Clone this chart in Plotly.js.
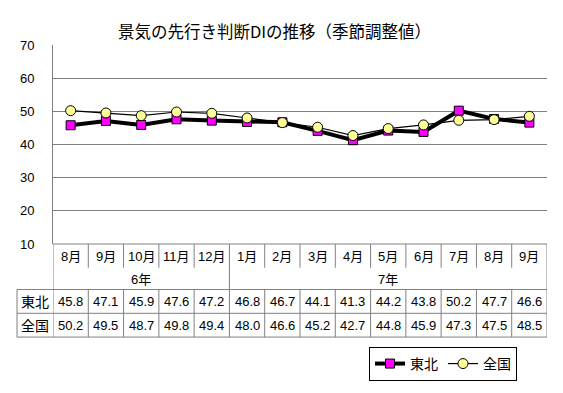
<!DOCTYPE html>
<html>
<head>
<meta charset="utf-8">
<script src="https://cdn.plot.ly/plotly-3.0.1.min.js"></script>
<style>body{margin:0;padding:0;background:#fff}#chart{width:563px;height:393px}</style>
</head>
<body>
<div id="chart"></div>
<script>
// ---- data ----
var months = ['8月','9月','10月','11月','12月','1月','2月','3月','4月','5月','6月','7月','8月','9月'];
var yearLabels = ['6年','7年'];
var yearOfMonth = [0,0,0,0,0,1,1,1,1,1,1,1,1,1];
var seriesNames = ['東北','全国'];
var tohoku = [45.8,47.1,45.9,47.6,47.2,46.8,46.7,44.1,41.3,44.2,43.8,50.2,47.7,46.6];
var zenkoku = [50.2,49.5,48.7,49.8,49.4,48.0,46.6,45.2,42.7,44.8,45.9,47.3,47.5,48.5];
var yTicks = [10,20,30,40,50,60,70];

// ---- layout geometry (pixels) ----
var W = 563, H = 393;
var L = 53, R = 547, T = 45, B = 246;
var pw = R - L, ph = B - T;
function py(p){ return (B - p) / ph; }   // pixel y -> paper y
function px(p){ return (p - L) / pw; }   // pixel x -> paper x

var idx = months.map(function(_, i){ return i; });
var gray = '#808080';
var jp = '"Noto Sans CJK JP", sans-serif';
var num = '"Liberation Sans", Arial, "Noto Sans CJK JP", sans-serif';

var traces = [
  {x: idx, y: tohoku, name: seriesNames[0], type: 'scatter', mode: 'lines+markers',
   line: {color: '#000000', width: 4},
   marker: {symbol: 'square', size: 9, color: '#FF00FF', line: {color: '#000000', width: 1}}},
  {x: idx, y: zenkoku, name: seriesNames[1], type: 'scatter', mode: 'lines+markers',
   line: {color: '#000000', width: 1.2},
   marker: {symbol: 'circle', size: 10, color: '#FFFF99', line: {color: '#000000', width: 1}}}
];

var shapes = [];
var annotations = [];
function vline(x, y0, y1, xref){ shapes.push({type:'line', xref: xref || 'x', yref:'paper', x0:x, x1:x, y0:y0, y1:y1, line:{color:gray, width:1}}); }
function hline(y, x0, x1, xref){ shapes.push({type:'line', xref: xref || 'x', yref:'paper', x0:x0, x1:x1, y0:y, y1:y, line:{color:gray, width:1}}); }

var n = months.length;
var yHeadBot = py(270), yYearBot = py(292), yRow2 = py(316), yBot = py(340);
var labelLeft = px(17);

// header separators
for (var i = 0; i < n - 1; i++) {
  var boundary = yearOfMonth[i] !== yearOfMonth[i+1];
  vline(i + 0.5, 0, boundary ? yYearBot : yHeadBot);
}
// data row verticals
for (var i = 0; i <= n; i++) {
  vline(i - 0.5, (i === 0 || i === n) ? 0 : yYearBot, yBot);
}
vline(labelLeft, yYearBot, yBot, 'paper');
// horizontals
hline(yYearBot, labelLeft, 1, 'paper');
hline(yRow2, labelLeft, 1, 'paper');
hline(yBot, labelLeft, 1, 'paper');
hline(0, -0.5, n - 0.5);

// month labels and values
months.forEach(function(m, i){
  annotations.push({xref:'x', yref:'paper', x:i, y:py(259), text:m, showarrow:false,
    font:{family:num, size:13, color:'#000'}, xanchor:'center', yanchor:'middle'});
  annotations.push({xref:'x', yref:'paper', x:i, y:py(304), text:tohoku[i].toFixed(1), showarrow:false,
    font:{family:num, size:13, color:'#000'}, xanchor:'center', yanchor:'middle'});
  annotations.push({xref:'x', yref:'paper', x:i, y:py(328), text:zenkoku[i].toFixed(1), showarrow:false,
    font:{family:num, size:13, color:'#000'}, xanchor:'center', yanchor:'middle'});
});
// year labels
yearLabels.forEach(function(yl, k){
  var members = idx.filter(function(i){ return yearOfMonth[i] === k; });
  var c = (members[0] + members[members.length - 1]) / 2;
  annotations.push({xref:'x', yref:'paper', x:c, y:py(282), text:yl, showarrow:false,
    font:{family:num, size:13, color:'#000'}, xanchor:'center', yanchor:'middle'});
});
// row labels
[seriesNames[0], seriesNames[1]].forEach(function(s, k){
  annotations.push({xref:'paper', yref:'paper', x:px(35), y:py(k === 0 ? 304 : 328), text:s, showarrow:false,
    font:{family:jp, size:14, color:'#000'}, xanchor:'center', yanchor:'middle'});
});

var layout = {
  width: W, height: H,
  margin: {l: L, r: W - R, t: T, b: H - B, pad: 0},
  paper_bgcolor: '#ffffff', plot_bgcolor: '#ffffff',
  title: {text: '景気の先行き判断DIの推移（季節調整値）', font: {family: jp, size: 16.5, color: '#000'},
          x: 274.5 / W, xref: 'container', xanchor: 'center', y: 1 - 32 / H, yref: 'container', yanchor: 'middle'},
  xaxis: {range: [-0.5, n - 0.5], showticklabels: false, showgrid: false, zeroline: false, showline: false, ticks: '', fixedrange: true},
  yaxis: {range: [10, 70], tickvals: yTicks, ticktext: yTicks.map(String), showgrid: true, gridcolor: gray, gridwidth: 1,
          zeroline: false, showline: true, linecolor: gray, linewidth: 1, ticks: 'inside', ticklen: 4, tickcolor: gray,
          ticklabelstandoff: 15, tickfont: {family: num, size: 13, color: '#000'}, fixedrange: true},
  showlegend: true,
  legend: {orientation: 'h', x: px(443), xanchor: 'center', y: py(350), yanchor: 'top',
           bordercolor: '#000', borderwidth: 1, bgcolor: '#fff',
           font: {family: jp, size: 14, color: '#000'}, itemwidth: 30, tracegroupgap: 0},
  shapes: shapes,
  annotations: annotations
};

Plotly.newPlot('chart', traces, layout, {displayModeBar: false, staticPlot: true});
</script>
</body>
</html>
